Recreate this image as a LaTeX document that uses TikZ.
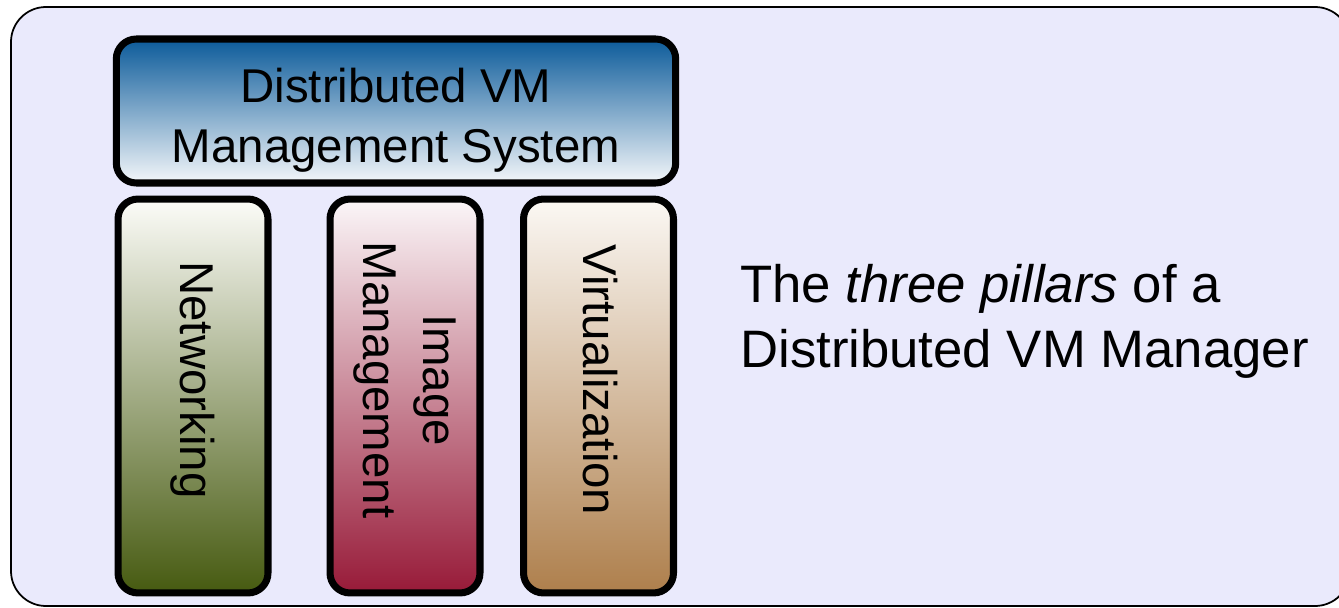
\documentclass[tikz,border=0pt]{standalone}
\usepackage{fontspec}
\setmainfont{Liberation Sans}

\definecolor{backcol}{HTML}{EAEAFC}
\definecolor{dvmtop}{HTML}{0C5B9A}
\definecolor{dvmbot}{HTML}{F4F7FA}
\definecolor{nettop}{HTML}{FCFCF8}
\definecolor{netbot}{HTML}{465A10}
\definecolor{imgtop}{HTML}{FBF6F8}
\definecolor{imgbot}{HTML}{971A38}
\definecolor{virttop}{HTML}{FBF8F4}
\definecolor{virtbot}{HTML}{AE7F4C}

\begin{document}
\begin{tikzpicture}[x=0.02cm,y=-0.02cm]
   \tikzset{frame/.style = {draw, line width=1pt, fill=backcol, rounded corners=0.7cm}, }
   \tikzset{layer/.style = {rectangle, draw, line width=4pt, rounded corners=0.4cm, inner sep=0pt, outer sep=0pt}, }
   \tikzset{pillar/.style = {layer, minimum width=3cm, minimum height=7.88cm}, }
   \tikzset{boxtext/.style = {align=center, inner sep=0pt, font=\fontsize{27}{34}\selectfont}, }
   \tikzset{pillartext/.style = {boxtext, rotate=-90}, }

   \useasboundingbox (0,0) rectangle (1339,608);
   \draw[frame] (11,7) rectangle (1350,606);

   % management layer on top
   \node[layer, minimum width=11.19cm, minimum height=2.88cm,
         top color=dvmtop, bottom color=dvmbot] (DVM) at (396,111) {};
   \node[boxtext] (DVMtext) at (396,120) {Distributed VM\\Management System};

   % the pillars
   \node[pillar, top color=nettop, bottom color=netbot] (Net) at (193,396) {};
   \node[pillar, top color=imgtop, bottom color=imgbot] (Img) at (405,396) {};
   \node[pillar, top color=virttop, bottom color=virtbot] (Virt) at (598.5,396) {};

   \node[pillartext] (Nettext) at (193,380) {Networking};
   \node[pillartext] (Imgtext) at (405,380) {Image\\Management};
   \node[pillartext] (Virttext) at (600,380) {Virtualization};

   % caption
   \node[anchor=west, align=left, inner sep=0pt, font=\fontsize{30}{37}\selectfont]
   (caption) at (740,321) {The \textit{three pillars} of a\\Distributed VM Manager};
\end{tikzpicture}
\end{document}
